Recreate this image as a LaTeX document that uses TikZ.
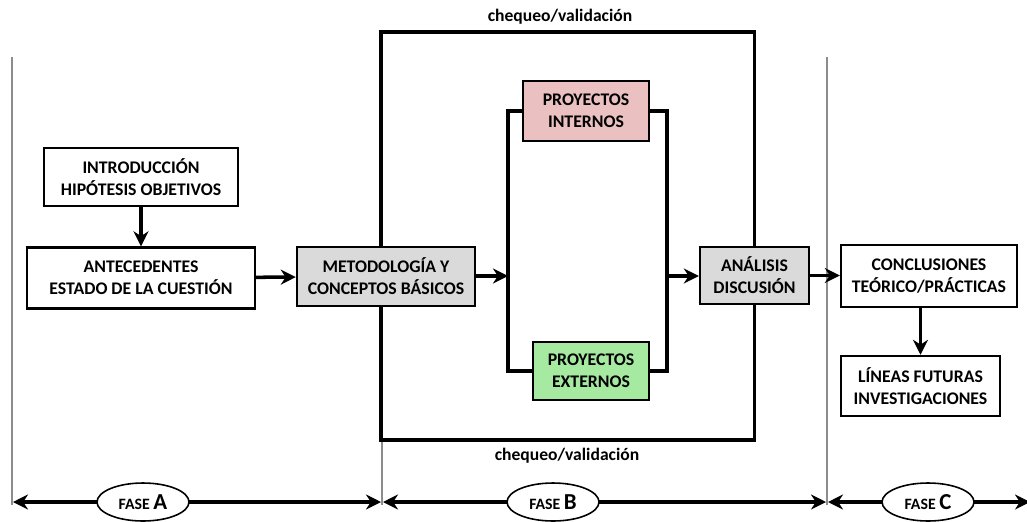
\documentclass[tikz,border=0pt]{standalone}
\usepackage{fontspec}
\setmainfont{Carlito}
\usepackage{tikz}
\usetikzlibrary{arrows.meta,positioning,shapes.geometric}
\definecolor{grisbox}{RGB}{218,218,218}
\definecolor{rosabox}{RGB}{235,192,192}
\definecolor{verdebox}{RGB}{166,233,160}
\definecolor{gristrazo}{RGB}{140,140,140}

\begin{document}
\begin{tikzpicture}[x=0.02cm, y=-0.02cm,
  caja/.style={draw, line width=1.4pt, inner sep=0pt, font=\fontsize{10.1}{12.6}\selectfont\bfseries, align=center},
  fase/.style={draw, ellipse, line width=0.9pt, fill=white, minimum width=18.4mm, minimum height=7.6mm, inner sep=0pt, font=\fontsize{9}{10}\selectfont\bfseries},
  lab/.style={font=\fontsize{10}{11}\selectfont\bfseries},
  arr/.style={-{Stealth[length=3mm, width=3mm]}, line width=2pt},
  lin/.style={line width=2pt},
  eje/.style={{Stealth[length=3mm, width=3mm]}-{Stealth[length=3mm, width=3mm]}, line width=2pt},
  sep/.style={gristrazo, line width=0.6pt}]
  \useasboundingbox (0,0) rectangle (1027,521);
  % ---------------- separadores y fases
  \coordinate (s0t) at (12,57);   \coordinate (s0b) at (12,505);
  \coordinate (s1t) at (382,440); \coordinate (s1b) at (382,505);
  \coordinate (s2t) at (827,57);  \coordinate (s2b) at (827,505);
  \draw[sep] (s0t) -- (s0b); \draw[sep] (s1t) -- (s1b); \draw[sep] (s2t) -- (s2b);
  \coordinate (ea0) at (13,502);  \coordinate (ea1) at (381,502);
  \coordinate (eb0) at (383,502); \coordinate (eb1) at (826,502);
  \coordinate (ec0) at (828,502); \coordinate (ec1) at (1030,502);
  \draw[eje] (ea0) -- (ea1); \draw[eje] (eb0) -- (eb1); \draw[eje] (ec0) -- (ec1);
  \node[fase] (faseA) at (143,502) {FASE \fontsize{13}{13}\selectfont A};
  \node[fase] (faseB) at (553,502) {FASE \fontsize{13}{13}\selectfont B};
  \node[fase] (faseC) at (928,502) {FASE \fontsize{13}{13}\selectfont C};
  % ---------------- fase A
  \node[caja, minimum width=38.8mm, minimum height=11.6mm] (intro) at (141,177) {INTRODUCCIÓN\\HIPÓTESIS OBJETIVOS};
  \node[caja, minimum width=45.6mm, minimum height=12.2mm] (ante) at (141,278) {ANTECEDENTES\\ESTADO DE LA CUESTIÓN};
  \draw[arr] (intro) -- (ante);
  % ---------------- fase B
  \node[caja, fill=grisbox, minimum width=35.6mm, minimum height=11.8mm] (metod) at (386,276.5) {METODOLOGÍA Y\\CONCEPTOS BÁSICOS};
  \node[caja, fill=rosabox, minimum width=25.2mm, minimum height=12mm] (inter) at (586,111) {PROYECTOS\\INTERNOS};
  \node[caja, fill=verdebox, minimum width=23.2mm, minimum height=11.6mm] (exter) at (591,371) {PROYECTOS\\EXTERNOS};
  \node[caja, fill=grisbox, minimum width=21.8mm, minimum height=11.4mm] (anal) at (754.5,275.5) {ANÁLISIS\\DISCUSIÓN};
  \draw[arr] (ante) -- (metod);
  \coordinate (bizq) at (508,276);
  \coordinate (bder) at (667,276);
  \draw[arr] (metod.east |- bizq) -- (bizq);
  \draw[lin] (inter.west) -| (bizq |- exter.west) -- (exter.west);
  \draw[lin] (inter.east) -| (bder |- exter.east) -- (exter.east);
  \draw[arr] (bder) -- (anal.west |- bder);
  % lazo de chequeo
  \coordinate (cs) at (381,32);
  \coordinate (ci) at (381,440);
  \draw[lin] (cs |- metod.north) -- (cs) -| (anal.north);
  \draw[lin] (ci |- metod.south) -- (ci) -| (anal.south);
  \node[lab, anchor=south] (chk1) at (560,30) {chequeo/validación};
  \node[lab, anchor=north] (chk2) at (567,442) {chequeo/validación};
  % ---------------- fase C
  \node[caja, minimum width=35.2mm, minimum height=12.4mm] (concl) at (929,276) {CONCLUSIONES\\TEÓRICO/PRÁCTICAS};
  \node[caja, minimum width=31.8mm, minimum height=12mm] (lineas) at (920.5,386) {LÍNEAS FUTURAS\\INVESTIGACIONES};
  \draw[arr] (anal) -- (concl.west |- anal);
  \draw[arr] (concl.south -| lineas) -- (lineas);
\end{tikzpicture}
\end{document}
